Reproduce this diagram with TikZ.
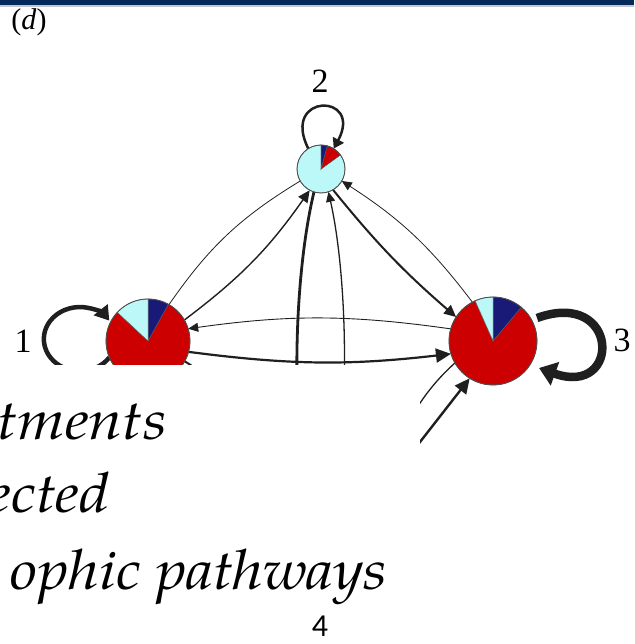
\documentclass[tikz,border=0pt]{standalone}
\usepackage{fontspec}
\setmainfont{Liberation Serif}
\newfontfamily\labelsans{Carlito}
\newfontfamily\captionface{TeX Gyre Pagella}[FakeStretch=1.1]
\usetikzlibrary{arrows.meta,calc}

\definecolor{pienavy}{RGB}{25,25,120}
\definecolor{piered}{RGB}{204,0,0}
\definecolor{piecyan}{RGB}{188,248,248}
\definecolor{barnavy}{RGB}{5,40,90}
\definecolor{bargray}{RGB}{196,200,206}

% one filled slice of a pie: centre node, radius, start, end, colour
\newcommand{\pieslice}[5]{\filldraw[fill=#5,draw=black!65,line width=0.5pt] (#1.center) -- ++(#3:#2) arc[start angle=#3,end angle=#4,radius=#2] -- cycle;}

\begin{document}
\begin{tikzpicture}[x=1pt,y=1pt,
  pienode/.style={circle,inner sep=0pt,outer sep=0pt,draw=none},
  rim/.style={draw=black!70,line width=0.8pt},
  wire/.style={draw=black!88},
  tipS/.style={-{Triangle[length=10pt,width=9pt]}},
  tipM/.style={-{Triangle[length=12pt,width=11pt]}},
  tipL/.style={-{Triangle[length=15pt,width=14pt]}},
  digit/.style={anchor=base,inner sep=0pt,font=\fontsize{34}{36}\selectfont},
  caption/.style={anchor=base east,inner sep=0pt,font=\captionface\itshape\fontsize{55.5}{66}\selectfont}]

\useasboundingbox (0,0) rectangle (634,644);
\clip (0,0) rectangle (634,644);

% header rule
\fill[barnavy] (0,639.3) rectangle (634,644);
\fill[bargray] (0,637.3) rectangle (634,639.3);

\node[inner sep=0pt,font=\fontsize{30}{32}\selectfont] (tag) at (29,622) {(\textit{d})};

% compartments
\node[pienode,minimum size=84pt] (n1) at (148,303) {};
\node[pienode,minimum size=48pt] (n2) at (321,475) {};
\node[pienode,minimum size=88pt] (n3) at (493,303) {};
\node[pienode,minimum size=60pt] (n4) at (320,84) {};

% flows between compartments
\draw[wire,line width=0.8pt] (n1.60) to[bend left=12] (n2.210);
\draw[wire,line width=1.4pt,tipM] (n1.30) to[bend right=9] (n2.242);
\draw[wire,line width=2pt,tipM] (n2.300) to[bend right=5] (n3.147);
\draw[wire,line width=0.8pt,tipS] (n3.118) to[bend right=10] (n2.330);
\draw[wire,line width=0.9pt,tipS] (n3.164) to[bend right=8] (n1.17);
\draw[wire,line width=2.2pt,tipL] (n1.-15) to[bend right=7] (n3.197);
\draw[wire,line width=2.8pt] (n2.253) .. controls (292,360) and (290,200) .. (n4.100);
\draw[wire,line width=1.3pt,tipS] (n4.80) .. controls (351,200) and (349,360) .. (n2.288);
\draw[wire,line width=1.3pt] (n3.210) to[out=222,in=55] (n4.30);
\draw[wire,line width=2.4pt,tipL] (n4.40) -- (n3.238);
\draw[wire,line width=2pt] (n1.-29) to[out=-30,in=150] (n4.150);

% self loops
\draw[wire,line width=4.5pt,-{Triangle[length=14pt,width=17pt]}]
  (n1.203) arc[start angle=-35,end angle=-325,x radius=36,y radius=32];
\draw[wire,line width=2.5pt,-{Triangle[length=10pt,width=12pt]}]
  (n2.122) .. controls +(-28,56) and +(30,56) .. (n2.58);
\draw[wire,line width=8.5pt,-{Triangle[length=17pt,width=24pt]}]
  ($(n3)+(44,23)$) .. controls +(83,30) and +(83,-30) .. ($(n3)+(46,-27)$);

% pie charts
\pieslice{n1}{42}{137}{421}{piered}
\pieslice{n1}{42}{61}{90}{pienavy}
\pieslice{n1}{42}{90}{137}{piecyan}
\draw[rim] (n1.center) circle[radius=42];

\pieslice{n2}{24}{90}{396}{piecyan}
\pieslice{n2}{24}{36}{75}{piered}
\pieslice{n2}{24}{75}{90}{pienavy}
\draw[rim] (n2.center) circle[radius=24];

\pieslice{n3}{44}{114}{410}{piered}
\pieslice{n3}{44}{50}{90}{pienavy}
\pieslice{n3}{44}{90}{114}{piecyan}
\draw[rim] (n3.center) circle[radius=44];

% labels
\node[digit] (l1) at (23,291) {1};
\node[digit] (l2) at (320,551) {2};
\node[digit] (l3) at (622,292) {3};
\node[digit,font=\labelsans\fontsize{32}{34}\selectfont] (l4) at (320,7) {4};

% text panel laid over the lower part
\fill[white] (-1,30) rectangle (420,279);
\node[caption] (w1) at (167,204) {tments};
\node[caption] (w2) at (110,131) {ected};
\node[caption] (w3) at (387,54) {ophic pathways};
\end{tikzpicture}
\end{document}
